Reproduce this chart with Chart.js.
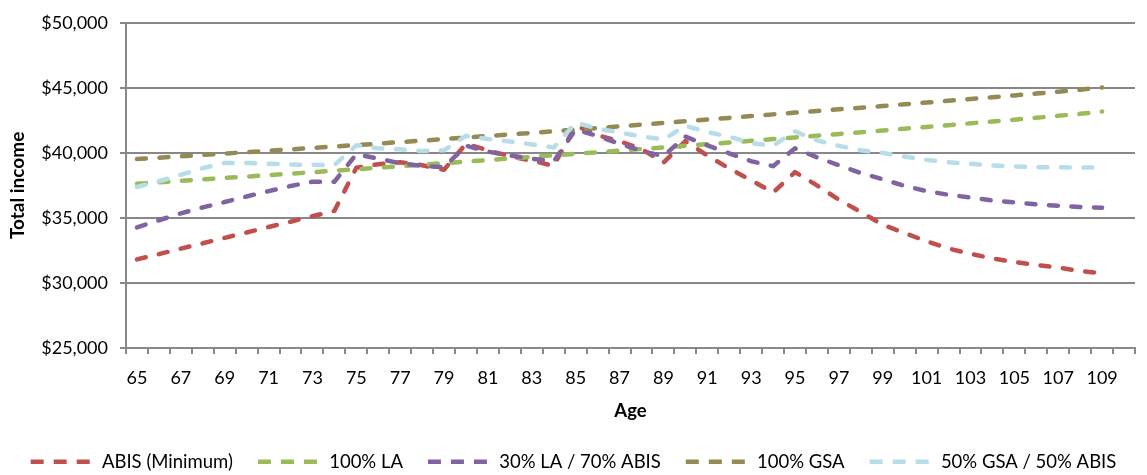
<!DOCTYPE html>
<html>
<head>
<meta charset="utf-8">
<title>Total income by age</title>
<script src="https://cdn.jsdelivr.net/npm/chart.js@4.4.1/dist/chart.umd.min.js"></script>
<style>
  html, body { margin: 0; padding: 0; background: #fff; }
</style>
</head>
<body>
<canvas id="income" width="1147" height="475"></canvas>
<script>
// Age categories (110 is an empty slot at the end of the axis)
const ages = [65, 66, 67, 68, 69, 70, 71, 72, 73, 74, 75, 76, 77, 78, 79, 80, 81, 82, 83, 84, 85, 86, 87,
  88, 89, 90, 91, 92, 93, 94, 95, 96, 97, 98, 99, 100, 101, 102, 103, 104, 105, 106, 107, 108, 109, 110];

const abisMinimum = [31810, 32220, 32640, 33050, 33470, 33880, 34300, 34710, 35130, 35540,
  38850, 39130, 39280, 39050, 38700, 40700, 40200, 39740, 39400, 39000,
  42100, 41350, 40900, 40300, 39250, 40900, 39800, 38800, 37900, 36950,
  38520, 37500, 36400, 35450, 34470, 33840, 33200, 32650, 32240, 31890,
  31610, 31380, 31180, 30920, 30750, null];

const la100 = [37630, 37740, 37850, 37960, 38070, 38180, 38290, 38400, 38510, 38630,
  38740, 38860, 38970, 39090, 39210, 39330, 39450, 39570, 39690, 39810,
  39930, 40050, 40170, 40300, 40420, 40550, 40670, 40800, 40930, 41060,
  41190, 41320, 41450, 41590, 41720, 41860, 41990, 42130, 42270, 42410,
  42550, 42700, 42850, 43000, 43180, null];

const la30Abis70 = [34270, 34820, 35350, 35810, 36220, 36650, 37060, 37450, 37780, 37780,
  39900, 39550, 39200, 39000, 38900, 40550, 40100, 39800, 39550, 39350,
  41800, 41300, 40700, 40150, 39750, 41250, 40580, 39970, 39360, 38980,
  40350, 39660, 39050, 38450, 37970, 37460, 37060, 36780, 36570, 36340,
  36190, 36040, 35940, 35840, 35790, null];

const gsa100 = [39530, 39630, 39740, 39840, 39950, 40050, 40160, 40270, 40380, 40490,
  40600, 40710, 40830, 40940, 41060, 41180, 41300, 41420, 41540, 41660,
  41790, 41910, 42040, 42170, 42300, 42430, 42560, 42690, 42830, 42960,
  43100, 43220, 43350, 43470, 43600, 43740, 43870, 44010, 44140, 44280,
  44420, 44560, 44700, 44860, 45030, null];

const gsa50Abis50 = [37380, 37820, 38320, 38830, 39230, 39230, 39160, 39110, 39080, 39060,
  40580, 40350, 40270, 40150, 40200, 41310, 41070, 40880, 40650, 40420,
  42320, 41870, 41560, 41260, 41030, 42080, 41600, 41240, 40750, 40550,
  41650, 40960, 40540, 40200, 39990, 39720, 39460, 39280, 39160, 39030,
  38950, 38900, 38890, 38880, 38880, null];

const seriesNames = ['ABIS (Minimum)', '100% LA', '30% LA / 70% ABIS', '100% GSA', '50% GSA / 50% ABIS'];
const seriesColors = ['#C0504D', '#9BBB59', '#8064A2', '#948A54', '#B7DEE8'];

const yMin = 25000;
const yMax = 50000;
const yStep = 5000;

const axisGrey = '#888888';

Chart.defaults.font.family = 'Lato';
Chart.defaults.color = '#000';

const seriesData = [abisMinimum, la100, la30Abis70, gsa100, gsa50Abis50];

const datasets = seriesData.map((values, i) => ({
  label: seriesNames[i],
  data: values,
  borderColor: seriesColors[i],
  backgroundColor: 'transparent',
  borderWidth: 4.5,
  borderDash: [9, 13.5],
  borderCapStyle: 'round',
  borderJoinStyle: 'round',
  pointRadius: 0,
  tension: 0,
  fill: false,
  // later series are painted on top, earlier ones underneath
  order: seriesData.length - i
}));

new Chart(document.getElementById('income'), {
  type: 'line',
  data: { labels: ages, datasets },
  options: {
    responsive: false,
    animation: false,
    layout: { padding: { left: 0, right: 0, top: 18, bottom: -6 } },
    plugins: {
      tooltip: { enabled: false },
      legend: {
        position: 'bottom',
        labels: {
          usePointStyle: true,
          pointStyle: 'line',
          pointStyleWidth: 62,
          padding: 25,
          font: { size: 18.5 },
          color: '#000',
          sort: (a, b) => a.datasetIndex - b.datasetIndex,
          generateLabels(chart) {
            const items = Chart.defaults.plugins.legend.labels.generateLabels(chart);
            items.forEach(item => { item.lineDash = [13, 10]; });
            return items;
          }
        }
      }
    },
    scales: {
      x: {
        offset: true,
        afterFit(scale) { scale.height = 79.5; },
        grid: {
          offset: true,
          drawOnChartArea: false,
          drawTicks: true,
          tickLength: 6,
          color: axisGrey,
          lineWidth: 2
        },
        border: { display: true, color: axisGrey, width: 2 },
        ticks: {
          autoSkip: false,
          maxRotation: 0,
          padding: 13,
          font: { size: 18 },
          color: '#000',
          callback(value, index) {
            const age = ages[index];
            return age % 2 === 1 ? String(age) : '';
          }
        },
        title: {
          display: true,
          text: 'Age',
          font: { size: 18.5, weight: 'bold' },
          color: '#000',
          padding: { top: 0, bottom: 5.5 }
        }
      },
      y: {
        min: yMin,
        max: yMax,
        afterFit(scale) { scale.width = 126; },
        grid: {
          color: axisGrey,
          lineWidth: 2,
          drawTicks: true,
          tickLength: 6
        },
        border: { display: true, color: axisGrey, width: 2 },
        ticks: {
          stepSize: yStep,
          padding: 12,
          font: { size: 18 },
          color: '#000',
          callback: v => '$' + v.toLocaleString('en-US')
        },
        title: {
          display: true,
          text: 'Total income',
          font: { size: 19, weight: 'bold' },
          color: '#000',
          padding: { top: 6, bottom: 0 }
        }
      },
      // empty strip on the right edge of the plot
      gutter: {
        type: 'linear',
        position: 'right',
        afterFit(scale) { scale.width = 12; },
        grid: { display: false },
        border: { display: false },
        ticks: { display: false }
      }
    }
  }
});
</script>
</body>
</html>
